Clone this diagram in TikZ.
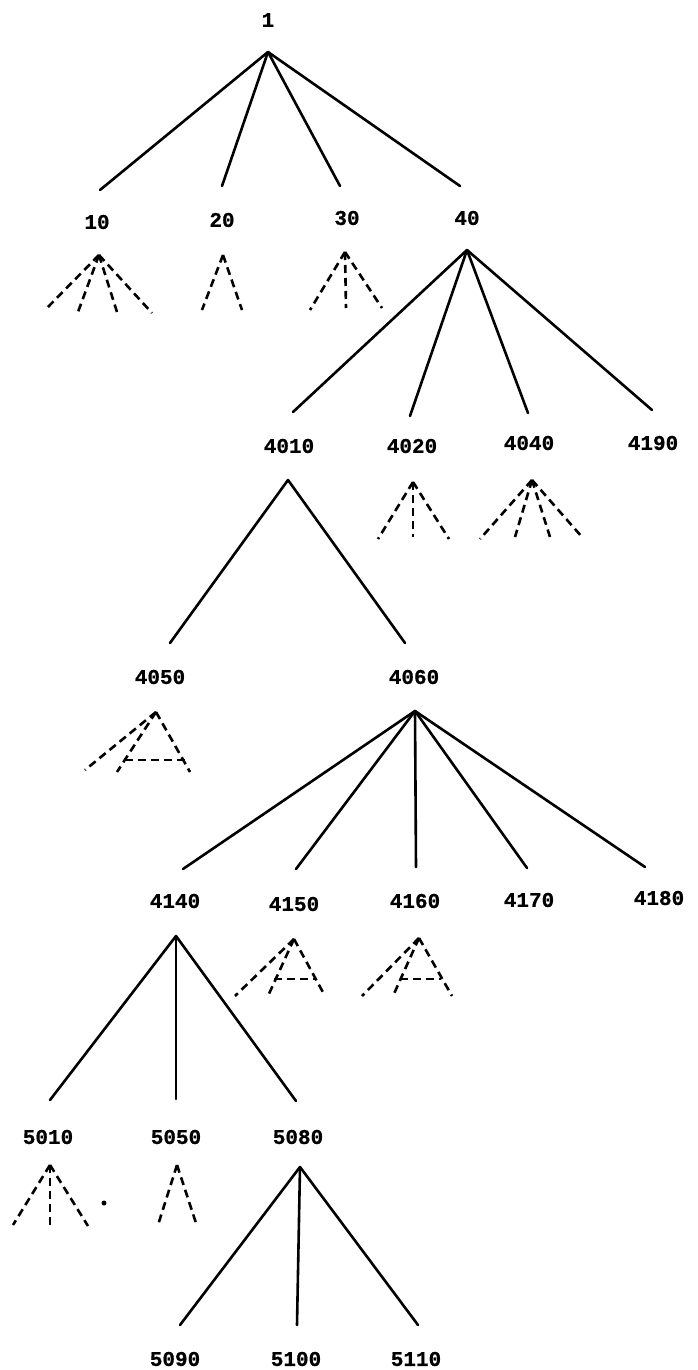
\documentclass[tikz,border=0pt]{standalone}
\usepackage{fontspec}
\setmainfont{Liberation Mono}[BoldFeatures={FakeBold=0.6}]
\begin{document}
\begin{tikzpicture}[x=1pt,y=-1pt,
  lbl/.style={font=\bfseries\fontsize{21}{25}\selectfont, inner sep=0pt},
  edge/.style={line width=2.6pt, line cap=round},
  dedge/.style={line width=2.6pt, dash pattern=on 8pt off 5pt}]
\useasboundingbox (0,0) rectangle (697,1370);
% labels
\node[lbl] (n1) at (268,20) {1};
\node[lbl] (n10) at (97,222) {10};
\node[lbl] (n20) at (222,220) {20};
\node[lbl] (n30) at (347,218) {30};
\node[lbl] (n40) at (467,218) {40};
\node[lbl] (n4010) at (289,446) {4010};
\node[lbl] (n4020) at (412,446) {4020};
\node[lbl] (n4040) at (529,443) {4040};
\node[lbl] (n4190) at (653,443) {4190};
\node[lbl] (n4050) at (160,677) {4050};
\node[lbl] (n4060) at (414,677) {4060};
\node[lbl] (n4140) at (175,901) {4140};
\node[lbl] (n4150) at (294,904) {4150};
\node[lbl] (n4160) at (415,901) {4160};
\node[lbl] (n4170) at (529,900) {4170};
\node[lbl] (n4180) at (659,898) {4180};
\node[lbl] (n5010) at (48,1137) {5010};
\node[lbl] (n5050) at (176,1137) {5050};
\node[lbl] (n5080) at (298,1137) {5080};
\node[lbl] (n5090) at (175,1359) {5090};
\node[lbl] (n5100) at (296,1359) {5100};
\node[lbl] (n5110) at (416,1359) {5110};
% apexes
\coordinate (a1) at (268,52);
\coordinate (a10) at (99,255);
\coordinate (a20) at (223,255);
\coordinate (a30) at (345,252);
\coordinate (a40) at (467,250);
\coordinate (a4010) at (288,480);
\coordinate (a4020) at (413,482);
\coordinate (a4040) at (532,480);
\coordinate (a4050) at (156,712);
\coordinate (a4060) at (415,711);
\coordinate (a4140) at (176,936);
\coordinate (a4150) at (294,939);
\coordinate (a4160) at (419,938);
\coordinate (a5010) at (50,1165);
\coordinate (a5050) at (177,1165);
\coordinate (a5080) at (300,1167);
% line ends above child labels
\coordinate (t10) at (100,190);
\coordinate (t20) at (222,186);
\coordinate (t30) at (340,186);
\coordinate (t40) at (460,186);
\coordinate (t4010) at (293,412);
\coordinate (t4020) at (410,416);
\coordinate (t4040) at (528,413);
\coordinate (t4190) at (652,410);
\coordinate (t4050) at (170,643);
\coordinate (t4060) at (405,643);
\coordinate (t4140) at (183,869);
\coordinate (t4150) at (296,869);
\coordinate (t4160) at (416,867);
\coordinate (t4170) at (527,868);
\coordinate (t4180) at (645,867);
\coordinate (t5010) at (50,1100);
\coordinate (t5050) at (176,1099);
\coordinate (t5080) at (296,1101);
\coordinate (t5090) at (180,1325);
\coordinate (t5100) at (297,1325);
\coordinate (t5110) at (418,1325);
% solid edges
\foreach \p/\c in {1/10,1/20,1/30,1/40,
  40/4010,40/4020,40/4040,40/4190,
  4010/4050,4010/4060,
  4060/4140,4060/4150,4060/4160,4060/4170,4060/4180,
  4140/5010,4140/5050,4140/5080,
  5080/5090,5080/5100,5080/5110}
  \draw[edge] (a\p) -- (t\c);
% dashed (unexpanded) subtrees
\coordinate (d10a) at (45,310);  \coordinate (d10b) at (78,312);
\coordinate (d10c) at (117,312); \coordinate (d10d) at (152,313);
\foreach \e in {a,b,c,d} \draw[dedge] (a10) -- (d10\e);
\coordinate (d20a) at (202,310); \coordinate (d20b) at (242,310);
\foreach \e in {a,b} \draw[dedge] (a20) -- (d20\e);
\coordinate (d30a) at (310,310); \coordinate (d30b) at (346,308);
\coordinate (d30c) at (382,308);
\foreach \e in {a,b,c} \draw[dedge] (a30) -- (d30\e);
\coordinate (d4020a) at (378,539); \coordinate (d4020b) at (413,537);
\coordinate (d4020c) at (449,539);
\foreach \e in {a,b,c} \draw[dedge] (a4020) -- (d4020\e);
\coordinate (d4040a) at (480,539); \coordinate (d4040b) at (515,537);
\coordinate (d4040c) at (550,537); \coordinate (d4040d) at (582,537);
\foreach \e in {a,b,c,d} \draw[dedge] (a4040) -- (d4040\e);
\coordinate (d4050a) at (85,770); \coordinate (d4050b) at (117,772);
\coordinate (d4050c) at (190,772);
\coordinate (h4050a) at (125,760); \coordinate (h4050b) at (185,760);
\foreach \e in {a,b,c} \draw[dedge] (a4050) -- (d4050\e);
\draw[dedge] (h4050a) -- (h4050b);
\coordinate (d4150a) at (235,996); \coordinate (d4150b) at (268,996);
\coordinate (d4150c) at (325,996);
\coordinate (h4150a) at (274,979); \coordinate (h4150b) at (315,979);
\foreach \e in {a,b,c} \draw[dedge] (a4150) -- (d4150\e);
\draw[dedge] (h4150a) -- (h4150b);
\coordinate (d4160a) at (362,996); \coordinate (d4160b) at (393,996);
\coordinate (d4160c) at (452,996);
\coordinate (h4160a) at (400,979); \coordinate (h4160b) at (441,979);
\foreach \e in {a,b,c} \draw[dedge] (a4160) -- (d4160\e);
\draw[dedge] (h4160a) -- (h4160b);
\coordinate (d5010a) at (13,1225); \coordinate (d5010b) at (50,1225);
\coordinate (d5010c) at (88,1226);
\foreach \e in {a,b,c} \draw[dedge] (a5010) -- (d5010\e);
\coordinate (d5050a) at (158,1225); \coordinate (d5050b) at (196,1223);
\foreach \e in {a,b} \draw[dedge] (a5050) -- (d5050\e);
\fill (104,1203) circle (2.5pt);
\end{tikzpicture}
\end{document}
